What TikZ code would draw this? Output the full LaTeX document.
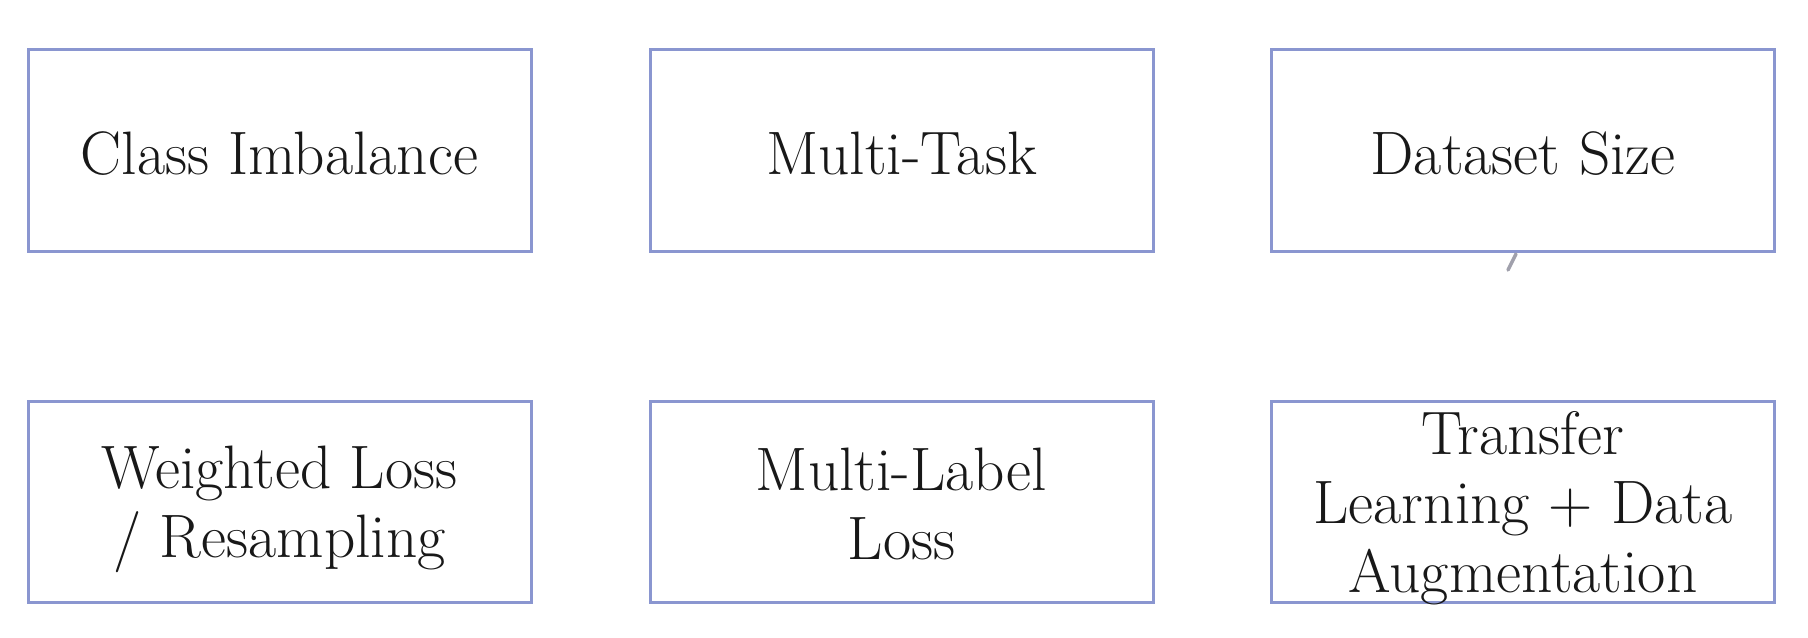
\documentclass[tikz,border=0pt]{standalone}
\usepackage{fontspec}
\definecolor{boxline}{RGB}{138,150,208}
\definecolor{txt}{RGB}{24,24,24}
\definecolor{markgray}{RGB}{160,160,172}
\tikzset{
  box/.style={draw=boxline, line width=2.25pt, rectangle, minimum width=503*0.75pt, minimum height=201*0.75pt, inner sep=0pt},
  lbl/.style={text=txt, align=center, font=\fontsize{46}{51.75}\selectfont\addfontfeatures{FakeBold=1.3}, inner sep=0pt}
}
\begin{document}
\begin{tikzpicture}[x=0.75pt, y=-0.75pt]
\useasboundingbox[fill=white] (0,0) rectangle (1808,638);
% top row
\node[box] (b1) at (279.5,150.5) {};
\node[box] (b2) at (901.5,150.5) {};
\node[box] (b3) at (1523,150.5) {};
% bottom row
\node[box] (b4) at (279.5,501.5) {};
\node[box] (b5) at (901.5,501.5) {};
\node[box] (b6) at (1523,501.5) {};
% labels
\node[lbl] (t1) at (279.5,153.5) {Class Imbalance};
\node[lbl] (t2) at (901.5,153.5) {Multi-Task};
\node[lbl] (t3) at (1523,153.5) {Dataset Size};
\node[lbl] (t4) at (279.5,509.5) {Weighted Loss\\/ Resampling};
\node[lbl] (t5) at (901.5,503.5) {Multi-Label\\Loss};
\node[lbl] (t6) at (1523,508.5) {Transfer\\Learning + Data\\Augmentation};
% small stray pen mark below "Dataset Size"
\draw[markgray, line width=2.6pt, line cap=round] (1516,254) -- (1508,270);
\end{tikzpicture}
\end{document}
